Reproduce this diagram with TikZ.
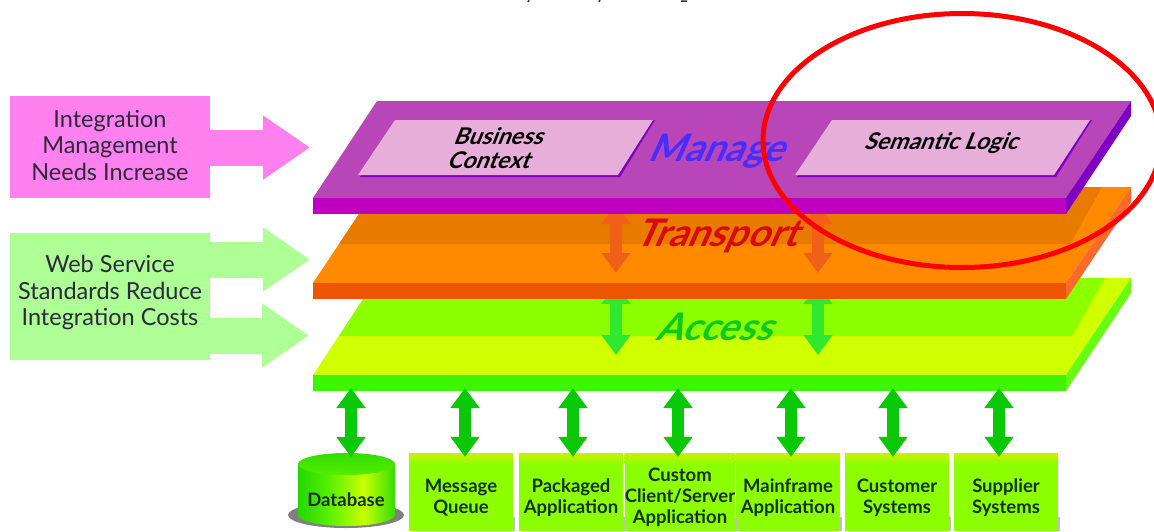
\documentclass[tikz,border=0pt]{standalone}
\usepackage{fontspec}
\setmainfont{Lato}
\usetikzlibrary{arrows.meta}
\definecolor{pinkc}{HTML}{FF80EE}
\definecolor{lgreen}{HTML}{AEFF96}
\definecolor{mantop}{HTML}{B946B9}
\definecolor{manfront}{HTML}{C000C0}
\definecolor{manside}{HTML}{7F00C4}
\definecolor{panelc}{HTML}{E6AED8}
\definecolor{orgtop}{HTML}{FF8A00}
\definecolor{orgshade}{HTML}{E87A00}
\definecolor{orgfront}{HTML}{EE5500}
\definecolor{orgside}{HTML}{FF6A2A}
\definecolor{acctop}{HTML}{CFFF00}
\definecolor{accshade}{HTML}{8CFF00}
\definecolor{accfront}{HTML}{3CF500}
\definecolor{accside}{HTML}{66FF10}
\definecolor{arrO}{HTML}{F06018}
\definecolor{arrG}{HTML}{30E830}
\definecolor{arrB}{HTML}{08C808}
\definecolor{txt}{HTML}{2A2A3A}
\definecolor{boxtxt}{HTML}{10301A}
\definecolor{cg1}{HTML}{22D800}
\definecolor{cg2}{HTML}{55EE00}
\definecolor{cg3}{HTML}{C8FF00}
\definecolor{cg4}{HTML}{33DD00}
\definecolor{bandc}{HTML}{C8F000}
\definecolor{accessname}{HTML}{10C820}
\definecolor{transname}{HTML}{D80A0A}
\definecolor{managename}{HTML}{4A2CFF}
\pgfdeclarehorizontalshading{cylside}{100bp}{color(0bp)=(cg1);color(25bp)=(cg1);color(40bp)=(cg2);color(59bp)=(cg3);color(75bp)=(cg4);color(100bp)=(cg4)}
\tikzset{
  sidebox/.style={inner sep=0pt,minimum width=200pt,align=center,text=txt,font=\fontsize{23.5}{26.5}\selectfont},
  blockarrow/.style={line width=36pt,-{Triangle[length=47pt,width=61pt]}},
  updown/.style={line width=11.5pt,{Triangle[length=20pt,width=28pt]}-{Triangle[length=20pt,width=28pt]}},
  appbox/.style={fill=accshade,inner sep=0pt,minimum width=104pt,minimum height=67pt,align=center,text=boxtxt,font=\fontsize{18.5}{21}\selectfont\bfseries},
  layername/.style={transform shape,xslant=0.45,inner sep=0pt,font=\fontsize{38}{42}\selectfont\bfseries},
  paneltext/.style={transform shape,xslant=0.4,inner sep=0pt,align=center,text=black,font=\fontsize{23}{24.5}\selectfont\bfseries},
}
\begin{document}
\begin{tikzpicture}[x=1pt,y=-1pt]
\useasboundingbox (0,0) rectangle (1154,531);
% cut-off title descenders
\draw[line width=1.5pt,black!80] (529,0) -- (528,2) (600,0) -- (599,2) (681,1) -- (687,1);
% side boxes and arrows
\coordinate (pinktip) at (310,147.5);
\coordinate (wstip) at (310,259.5);
\coordinate (actip) at (309,335.5);
\node[sidebox,fill=pinkc,minimum height=98pt] (needs) at (110,145) {Integration\\Management\\Needs Increase};
\fill[pinkc] (needs.south west) rectangle ([yshift=-4pt]needs.south east);
\node[sidebox,fill=lgreen,minimum height=119pt] (standards) at (110,292.5) {Web Service\\Standards Reduce\\Integration Costs};
\fill[lgreen] (standards.south west) rectangle ([yshift=-8pt]standards.south east);
\draw[blockarrow,pinkc] (needs.east |- pinktip) -- (pinktip);
\draw[blockarrow,lgreen] (standards.east |- wstip) -- (wstip);
\draw[blockarrow,lgreen] (standards.east |- actip) -- (actip);
% access plate
\fill[acctop] (377,278) -- (1131,278) -- (1066,375) -- (313,375) -- cycle;
\fill[accshade] (377,278) -- (1105,278) -- (1072,336) -- (339,336) -- cycle;
\fill[accfront] (313,375) rectangle (1066,391);
\fill[accside] (1131,278) -- (1131,293) -- (1066,391) -- (1066,375) -- cycle;
\node[layername,text=accessname] (access) at (719,327) {Access};
\coordinate (ga1) at (616,284); \coordinate (ga2) at (616,355);
\coordinate (gb1) at (818,284); \coordinate (gb2) at (818,355);
\draw[updown,arrG] (ga1) -- (ga2);
\draw[updown,arrG] (gb1) -- (gb2);
% transport plate
\fill[orgtop] (377,187) -- (1131,187) -- (1066,283) -- (313,283) -- cycle;
\fill[orgshade] (377,187) -- (1102,187) -- (1070,244) -- (339,244) -- cycle;
\fill[orgfront] (313,283) rectangle (1066,299);
\fill[orgside] (1131,187) -- (1131,202) -- (1066,299) -- (1066,283) -- cycle;
\node[layername,text=transname] (transport) at (720,236) {Transport};
\coordinate (oa1) at (616,204); \coordinate (oa2) at (616,273);
\coordinate (ob1) at (818,204); \coordinate (ob2) at (818,273);
\draw[updown,arrO] (oa1) -- (oa2);
\draw[updown,arrO] (ob1) -- (ob2);
% manage plate
\fill[mantop] (377,101) -- (1131,101) -- (1066,198) -- (313,198) -- cycle;
\fill[manfront] (313,198) rectangle (1066,214);
\fill[manside] (1131,101) -- (1131,116) -- (1066,214) -- (1066,198) -- cycle;
\fill[manside] (395,122) -- (655,120) -- (620,177) -- (360,177) -- cycle;
\fill[panelc] (395,120) -- (653,120) -- (618,175) -- (358,175) -- cycle;
\fill[manside] (832,122) -- (1092,120) -- (1056,177) -- (797,177) -- cycle;
\fill[panelc] (832,120) -- (1090,120) -- (1054,175) -- (795,175) -- cycle;
\node[paneltext] (bc) at (496,148) {Business\\Context};
\node[paneltext] (sl) at (943,143) {Semantic Logic};
\node[layername,text=managename] (manage) at (720,151) {Manage};
% application boxes
\node[appbox] (mq) at (461,497.5) {Message\\Queue};
\node[appbox] (pa) at (571,497.5) {Packaged\\Application};
\node[appbox] (cc) at (680,497.5) {Custom\\Client/Server\\Application};
\node[appbox] (ma) at (788,497.5) {Mainframe\\Application};
\node[appbox] (cu) at (897,497.5) {Customer\\Systems};
\node[appbox] (su) at (1006,497.5) {Supplier\\Systems};
\foreach \b in {mq,pa,cc,ma,cu,su}{
  \shade[top color=bandc,bottom color=accshade] (\b.north west) rectangle ([yshift=10pt]\b.north east);
  \fill[black!25] ([yshift=14pt]\b.south east) rectangle ([xshift=2pt]\b.south east);
}
% database
\fill[black!50] (346,515) ellipse [x radius=58pt,y radius=13pt];
\shade[shading=cylside] (298,464) -- (298,515) arc[start angle=180,end angle=360,x radius=48.5pt,y radius=11pt] -- (395,464) -- cycle;
\shade[top color=cg4,bottom color=cg2] (346.5,464) ellipse [x radius=48.5pt,y radius=11pt];
\node[inner sep=0pt,text=boxtxt,font=\fontsize{18.5}{21}\selectfont\bfseries] (db) at (346,500) {Database};
\coordinate (dbtop) at (351,457);
% bottom connectors
\foreach \n/\x in {a/351,b/465,c/573,d/678,e/791,f/893,g/999}{
  \coordinate (up\n) at (\x,388);
}
\draw[updown,arrB] (upa) -- (dbtop);
\draw[updown,arrB] (upb) -- ([yshift=7pt]upb |- mq.north);
\draw[updown,arrB] (upc) -- ([yshift=7pt]upc |- pa.north);
\draw[updown,arrB] (upd) -- ([yshift=7pt]upd |- cc.north);
\draw[updown,arrB] (upe) -- ([yshift=7pt]upe |- ma.north);
\draw[updown,arrB] (upf) -- ([yshift=7pt]upf |- cu.north);
\draw[updown,arrB] (upg) -- ([yshift=7pt]upg |- su.north);
% highlight ellipse
\draw[red,line width=5pt] (962,140.5) ellipse [x radius=199pt,y radius=127pt];
\end{tikzpicture}
\end{document}
